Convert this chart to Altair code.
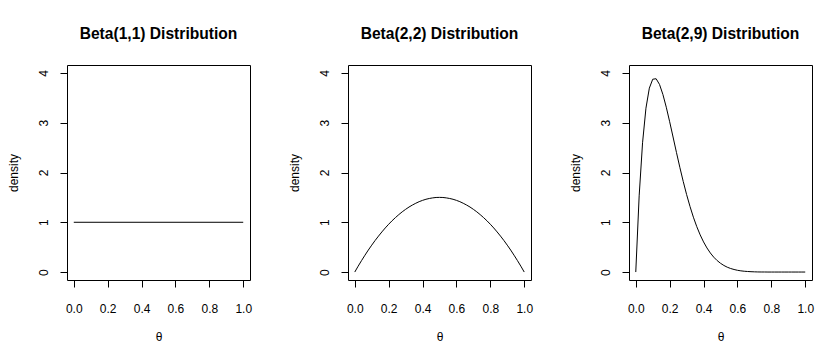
import altair as alt
import pandas as pd

# ---- data ----
titles = ["Beta(1,1) Distribution", "Beta(2,2) Distribution", "Beta(2,9) Distribution"]
x_ticks = [0.0, 0.2, 0.4, 0.6, 0.8, 1.0]
y_ticks = [0, 1, 2, 3, 4]

theta = [0.00, 0.02, 0.04, 0.06, 0.08, 0.10, 0.12, 0.14, 0.16, 0.18,
         0.20, 0.22, 0.24, 0.26, 0.28, 0.30, 0.32, 0.34, 0.36, 0.38,
         0.40, 0.42, 0.44, 0.46, 0.48, 0.50, 0.52, 0.54, 0.56, 0.58,
         0.60, 0.62, 0.64, 0.66, 0.68, 0.70, 0.72, 0.74, 0.76, 0.78,
         0.80, 0.82, 0.84, 0.86, 0.88, 0.90, 0.92, 0.94, 0.96, 0.98, 1.00]

beta11_theta = [0.0, 1.0]
beta11 = [1.0, 1.0]

beta22 = [0.000, 0.118, 0.230, 0.338, 0.442, 0.540, 0.634, 0.722, 0.806, 0.886,
          0.960, 1.030, 1.094, 1.154, 1.210, 1.260, 1.306, 1.346, 1.382, 1.414,
          1.440, 1.462, 1.478, 1.490, 1.498, 1.500, 1.498, 1.490, 1.478, 1.462,
          1.440, 1.414, 1.382, 1.346, 1.306, 1.260, 1.210, 1.154, 1.094, 1.030,
          0.960, 0.886, 0.806, 0.722, 0.634, 0.540, 0.442, 0.338, 0.230, 0.118, 0.000]

beta29 = [0.000, 1.531, 2.597, 3.292, 3.695, 3.874, 3.884, 3.770, 3.569, 3.312,
          3.020, 2.713, 2.404, 2.104, 1.820, 1.556, 1.317, 1.102, 0.912, 0.747,
          0.605, 0.484, 0.383, 0.299, 0.231, 0.176, 0.132, 0.097, 0.071, 0.051,
          0.035, 0.024, 0.016, 0.011, 0.007, 0.004, 0.002, 0.001, 0.001, 0.000,
          0.000, 0.000, 0.000, 0.000, 0.000, 0.000, 0.000, 0.000, 0.000, 0.000, 0.000]

FONT = "Liberation Sans"

frames = [
    pd.DataFrame({"theta": beta11_theta, "density": beta11}),
    pd.DataFrame({"theta": theta, "density": beta22}),
    pd.DataFrame({"theta": theta, "density": beta29}),
]


def panel(df, title):
    return alt.Chart(df).mark_line(color="black", strokeWidth=1).encode(
        x=alt.X("theta:Q",
                scale=alt.Scale(domain=[-0.04, 1.04], nice=False, zero=False),
                axis=alt.Axis(values=x_ticks, format=".1f", title="θ",
                              labelPadding=16, titlePadding=17)),
        y=alt.Y("density:Q",
                scale=alt.Scale(domain=[-0.16, 4.16], nice=False, zero=False),
                axis=alt.Axis(values=y_ticks, title="density", labelAngle=-90,
                              labelAlign="center", labelBaseline="bottom",
                              labelPadding=10, titlePadding=17)),
    ).properties(width=183, height=215,
                 title=alt.Title(title, fontSize=15.6, fontWeight="bold",
                                 font=FONT, color="black", offset=22))


chart = alt.hconcat(*[panel(d, t) for d, t in zip(frames, titles)], spacing=34).properties(
    padding={"left": 6, "top": 26, "right": 5, "bottom": 5},
    background="white",
).configure_view(
    stroke="black", strokeWidth=1
).configure_axis(
    grid=False, domain=False, tickColor="black", tickSize=7, tickWidth=1,
    labelColor="black", labelFont=FONT, labelFontSize=12,
    titleColor="black", titleFont=FONT, titleFontSize=12, titleFontWeight="normal",
    labelFlush=False, labelOverlap=False,
).configure_title(anchor="middle")

chart.save("out.html", embed_options={"renderer": "svg", "actions": False})
